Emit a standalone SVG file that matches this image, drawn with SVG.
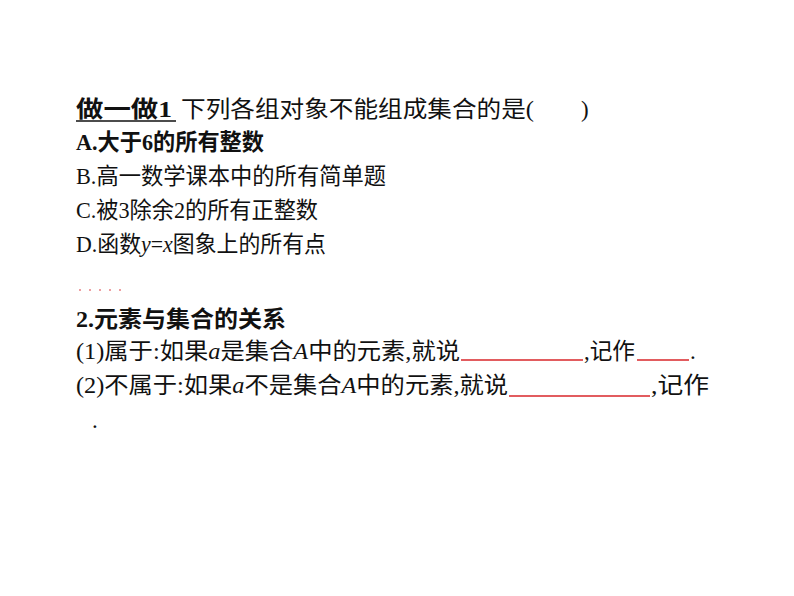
<svg xmlns="http://www.w3.org/2000/svg" width="794" height="596" viewBox="0 0 794 596">
<style>
text{font-family:"Liberation Serif","Noto Sans CJK SC",serif;font-size:23px;fill:#111}
.b{font-weight:bold}
.r{stroke:#d9262a;stroke-width:1.5}
</style>
<rect width="794" height="596" fill="#fff"/>
<g id="q1">
<text x="76" y="117" class="b" textLength="96" lengthAdjust="spacingAndGlyphs">做一做1</text>
<line x1="76" y1="121" x2="176" y2="121" stroke="#111" stroke-width="1.5"/>
<text x="181" y="117" textLength="353" lengthAdjust="spacingAndGlyphs">下列各组对象不能组成集合的是(</text>
<text x="581" y="117">)</text>
<text x="76" y="150" class="b" textLength="188" lengthAdjust="spacingAndGlyphs">A.大于6的所有整数</text>
<text x="76" y="184" textLength="310" lengthAdjust="spacingAndGlyphs">B.高一数学课本中的所有简单题</text>
<text x="76" y="218" textLength="242" lengthAdjust="spacingAndGlyphs">C.被3除余2的所有正整数</text>
<text x="76" y="252" textLength="250" lengthAdjust="spacingAndGlyphs">D.函数<tspan font-style="italic">y</tspan>=<tspan font-style="italic">x</tspan>图象上的所有点</text>
</g>
<g id="dots" fill="#d9262a">
<circle cx="80" cy="290" r="0.8"/><circle cx="90" cy="290" r="0.8"/><circle cx="100" cy="290" r="0.8"/><circle cx="110" cy="290" r="0.8"/><circle cx="120" cy="290" r="0.8"/>
</g>
<g id="s2">
<text x="76" y="327" class="b" textLength="210" lengthAdjust="spacingAndGlyphs">2.元素与集合的关系</text>
<text x="76" y="359" textLength="384" lengthAdjust="spacingAndGlyphs">(1)属于:如果<tspan font-style="italic">a</tspan>是集合<tspan font-style="italic">A</tspan>中的元素,就说</text>
<line class="r" x1="461" y1="360" x2="583" y2="360"/>
<text x="584" y="359" textLength="51" lengthAdjust="spacingAndGlyphs">,记作</text>
<line class="r" x1="637" y1="360" x2="689" y2="360"/>
<text x="690" y="359">.</text>
<text x="76" y="393" textLength="432" lengthAdjust="spacingAndGlyphs">(2)不属于:如果<tspan font-style="italic">a</tspan>不是集合<tspan font-style="italic">A</tspan>中的元素,就说</text>
<line class="r" x1="509" y1="396" x2="650" y2="396"/>
<text x="651" y="393" textLength="58" lengthAdjust="spacingAndGlyphs">,记作</text>
<text x="92" y="428">.</text>
</g>
</svg>
